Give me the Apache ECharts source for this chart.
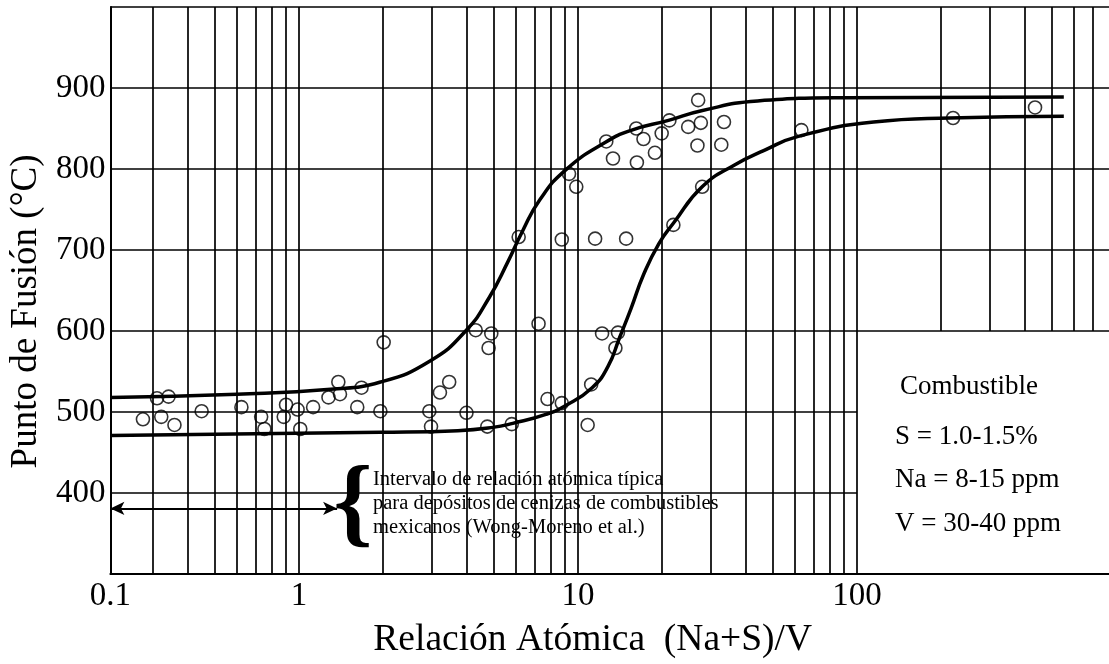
<!DOCTYPE html>
<html><head><meta charset="utf-8">
<script src="https://cdn.jsdelivr.net/npm/echarts@6/dist/echarts.min.js"></script>
<style>html,body{margin:0;padding:0;background:#fff}#c{width:1109px;height:664px}</style>
</head><body><div id="c"></div>
<script>
// Measured points (Relación atómica, Punto de fusión °C)
const pointsX = [0.276,0.31,0.341,0.321,0.358,0.448,0.622,0.732,0.752,0.899,0.882,0.989,1.011,1.124,1.276,1.384,1.403,1.676,1.618,1.958,2.012,
  2.933,2.974,3.201,3.455,3.985,4.3,4.89,4.783,4.732,5.789,7.223,7.777,8.75,10.83,11.15,12.2,13.91,13.62,
  6.13,8.75,11.52,14.88,9.29,9.86,12.63,13.35,16.26,17.17,18.87,19.95,16.18,21.26,24.83,26.96,27.56,26.8,33.36,32.63,27.86,21.97,63.2,220.9,434.5];
const pointsY = [491,517,519,494,484,501,506,494,479,509,494,503,479,506,518,537,522,530,506,501,586,
  501,482,524,537,499,601,597,579,482,485,609,516,511,484,534,597,598,579,
  716,713,714,714,794,778,834,813,808,837,820,844,850,860,852,885,857,829,858,830,778,731,848,863,876];
// Upper fitted curve
const upperX = [0.211,0.6,1.3,1.96,2.95,3.98,4.82,5.6,6.3,7.3,9.04,12.55,15.6,21.1,27.7,44,92,551];
const upperY = [518,522,528,537,563,601,642,685,722,762,799,833,848,860,872,884,888,889];
// Lower fitted curve
const lowerX = [0.211,1.958,3.71,4.955,5.838,7.674,9.04,11.24,12.8,14.1,15.5,17.2,19.5,21.97,27.86,36.4,46.5,61.2,114.7,214.8,551];
const lowerY = [471,475,477,481,486,497,508,530,556,592,628,670,708,733,778,805,823,840,858,863,865];
// Axis / grid
const xTickLabels = ['0.1','1','10','100'];
const yTickLabels = [400,500,600,700,800,900];
const vGridFull = [0.3,0.4,0.5,0.6,0.7,0.8,0.9,1,2,3,4,5,6,7,8,9,10,20,30,40,50,60,70,80,90,100];
const vGridUpper = [200,300,400,500,600,700];
const hGridFull = [600,700,800,900,1000];
const hGridShort = [400,500];
const arrowRange = [0.211,1.37];
const arrowY = 381;
const noteLines = ['Intervalo de relación atómica típica','para depósitos de cenizas de combustibles','mexicanos (Wong-Moreno et al.)'];
const fuelLines = ['Combustible','S = 1.0-1.5%','Na = 8-15 ppm','V = 30-40 ppm'];

const FONT = 'Liberation Serif';
const X_MIN = 0.211, X_MAX = 800, Y_MIN = 300, Y_MAX = 1000;

const gridLineData = [];
vGridFull.forEach(v => gridLineData.push([{coord:[v,Y_MIN]},{coord:[v,Y_MAX]}]));
vGridUpper.forEach(v => gridLineData.push([{coord:[v,600]},{coord:[v,Y_MAX]}]));
hGridFull.forEach(v => gridLineData.push([{coord:[X_MIN,v]},{coord:[X_MAX,v]}]));
hGridShort.forEach(v => gridLineData.push([{coord:[X_MIN,v]},{coord:[100,v]}]));

const chart = echarts.init(document.getElementById('c'), null, {renderer:'canvas'});
chart.setOption({
  animation:false,
  backgroundColor:'#fff',
  grid:{left:108, right:0, top:7, bottom:88, containLabel:false},
  xAxis:{
    type:'log', logBase:10, min:X_MIN, max:X_MAX,
    name:'Relación Atómica  (Na+S)/V', nameLocation:'middle', nameGap:47,
    nameTextStyle:{fontFamily:FONT, fontSize:37.5, color:'#000', padding:[0,34,0,0]},
    axisLine:{show:true, lineStyle:{color:'#000', width:2}},
    axisTick:{show:false}, splitLine:{show:false}, minorSplitLine:{show:false},
    axisLabel:{color:'#000', fontFamily:FONT, fontSize:33, margin:6, showMinLabel:true, showMaxLabel:false,
      formatter:v => { if (v < 0.5) return xTickLabels[0]; const s = String(Math.round(v)); return xTickLabels.indexOf(s) >= 0 ? s : ''; }}
  },
  yAxis:{
    type:'value', min:Y_MIN, max:Y_MAX, interval:100,
    name:'Punto de Fusión (°C)', nameLocation:'middle', nameGap:48, nameRotate:90,
    nameTextStyle:{fontFamily:FONT, fontSize:37, color:'#000', padding:[0,42,0,0]},
    axisLine:{show:true, lineStyle:{color:'#000', width:2}},
    axisTick:{show:false}, splitLine:{show:false},
    axisLabel:{color:'#000', fontFamily:FONT, fontSize:33, margin:5, padding:[0,0,26,0],
      formatter:v => yTickLabels.indexOf(v) >= 0 ? String(v) : ''}
  },
  graphic:[
    {type:'text', x:353, y:508, style:{text:'{', fontFamily:FONT, fontSize:100, fontWeight:'bold', fill:'#000', align:'center', verticalAlign:'middle'}},
    ...noteLines.map((t,i)=>({type:'text', x:373, y:480+i*24, style:{text:t, fontFamily:FONT, fontSize:20.5, fill:'#000', align:'left', verticalAlign:'middle'}})),
    ...fuelLines.map((t,i)=>({type:'text', x:i===0?900:895, y:[387,437,480,524][i], style:{text:t, fontFamily:FONT, fontSize:27, fill:'#000', align:'left', verticalAlign:'middle'}}))
  ],
  series:[
    {type:'line', data:[], silent:true, z:1,
      markLine:{silent:true, symbol:['none','none'], label:{show:false}, animation:false,
        lineStyle:{color:'#000', width:1.7, type:'solid'}, data:gridLineData}},
    {type:'line', data:[], silent:true, z:2,
      markLine:{silent:true, symbol:['arrow','arrow'], symbolSize:[10,14], label:{show:false}, animation:false,
        lineStyle:{color:'#000', width:2, type:'solid'},
        data:[[{coord:[arrowRange[0],arrowY]},{coord:[arrowRange[1],arrowY]}]]}},
    {type:'line', data:upperX.map((x,i)=>[x,upperY[i]]), smooth:0.5, showSymbol:false, symbol:'none',
      lineStyle:{color:'#000', width:3.5}, z:3},
    {type:'line', data:lowerX.map((x,i)=>[x,lowerY[i]]), smooth:0.5, showSymbol:false, symbol:'none',
      lineStyle:{color:'#000', width:3.5}, z:3},
    {type:'scatter', data:pointsX.map((x,i)=>[x,pointsY[i]]), symbol:'circle', symbolSize:13,
      itemStyle:{color:'rgba(0,0,0,0)', borderColor:'#000', borderWidth:1.6}, z:4}
  ]
});
</script></body></html>
